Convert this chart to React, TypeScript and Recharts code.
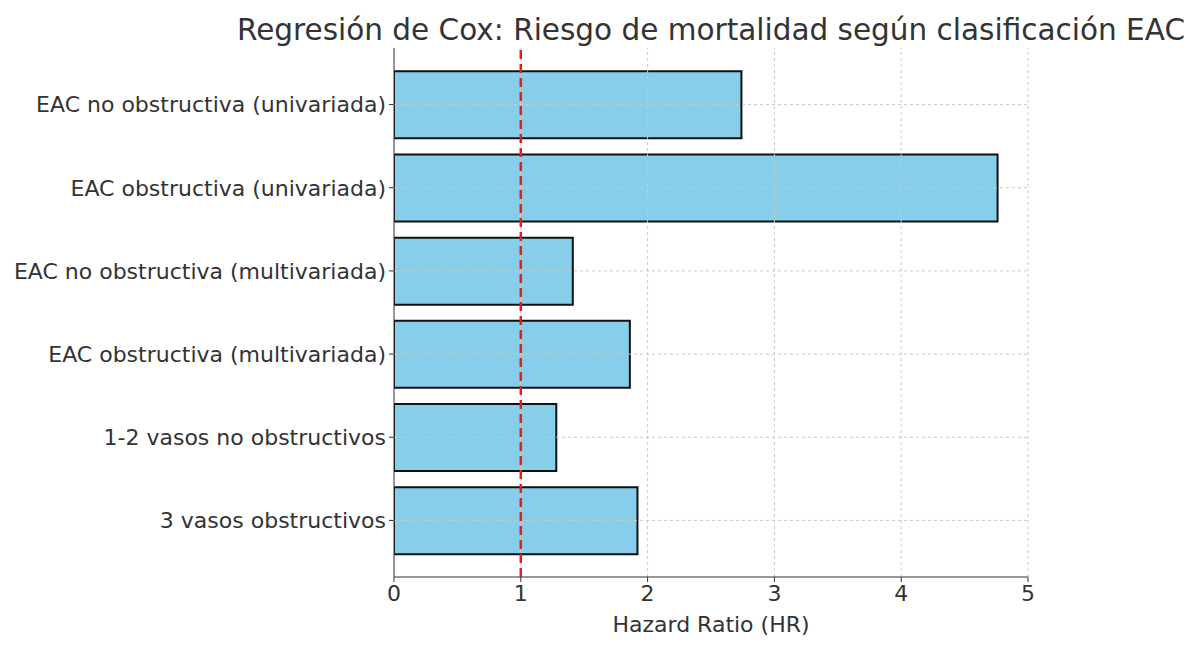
import { BarChart, Bar, XAxis, YAxis, ReferenceLine } from 'recharts';

// Cox regression hazard ratios per EAC classification
const categories = [
  'EAC no obstructiva (univariada)',
  'EAC obstructiva (univariada)',
  'EAC no obstructiva (multivariada)',
  'EAC obstructiva (multivariada)',
  '1-2 vasos no obstructivos',
  '3 vasos obstructivos',
];
const hazardRatios = [2.74, 4.76, 1.41, 1.86, 1.28, 1.92];
const xTicks = [0, 1, 2, 3, 4, 5];

const data = categories.map((name, i) => ({ name, hr: hazardRatios[i] }));

const font = '"DejaVu Sans", Verdana, sans-serif';
const gridStroke = '#c8c8c8';

export default function App() {
  return (
    <div style={{ position: 'absolute', left: 0, top: 0, width: 1200, height: 650, background: '#fff', fontFamily: font }}>
      <div
        style={{
          position: 'absolute',
          top: 13,
          left: 394,
          width: 634,
          fontSize: 29.5,
          color: '#333',
          whiteSpace: 'nowrap',
          display: 'flex',
          justifyContent: 'center',
        }}
      >
        <span>Regresión de Cox: Riesgo de mortalidad según clasificación EAC</span>
      </div>
      <BarChart
        width={1200}
        height={650}
        data={data}
        layout="vertical"
        margin={{ top: 48, right: 172, bottom: 13, left: 0 }}
        barCategoryGap="10%"
      >
        <XAxis
          type="number"
          domain={[0, 5]}
          ticks={xTicks}
          allowDataOverflow
          height={60}
          tickSize={5}
          tickMargin={3}
          stroke="#333"
          tick={{ fill: '#333', fontSize: 22, fontFamily: font }}
          label={{ value: 'Hazard Ratio (HR)', position: 'insideBottom', offset: 5, fill: '#333', fontSize: 22, fontFamily: font }}
        />
        <YAxis
          type="category"
          dataKey="name"
          width={394}
          padding={{ top: 15, bottom: 15 }}
          tickSize={5}
          tickMargin={3}
          stroke="#333"
          axisLine={{ stroke: '#333' }}
          tick={{ fill: '#333', fontSize: 22, fontFamily: font }}
        />
        <Bar dataKey="hr" fill="#87CEEB" stroke="#111" strokeWidth={2} isAnimationActive={false} />
        {xTicks.slice(1).map((t) => (
          <ReferenceLine key={'gx' + t} x={t} stroke={gridStroke} strokeDasharray="3 3" />
        ))}
        {categories.map((c) => (
          <ReferenceLine key={'gy' + c} y={c} stroke={gridStroke} strokeDasharray="3 3" />
        ))}
        <ReferenceLine x={1} stroke="#e0201c" strokeWidth={2.5} strokeDasharray="9 5" />
      </BarChart>
    </div>
  );
}
